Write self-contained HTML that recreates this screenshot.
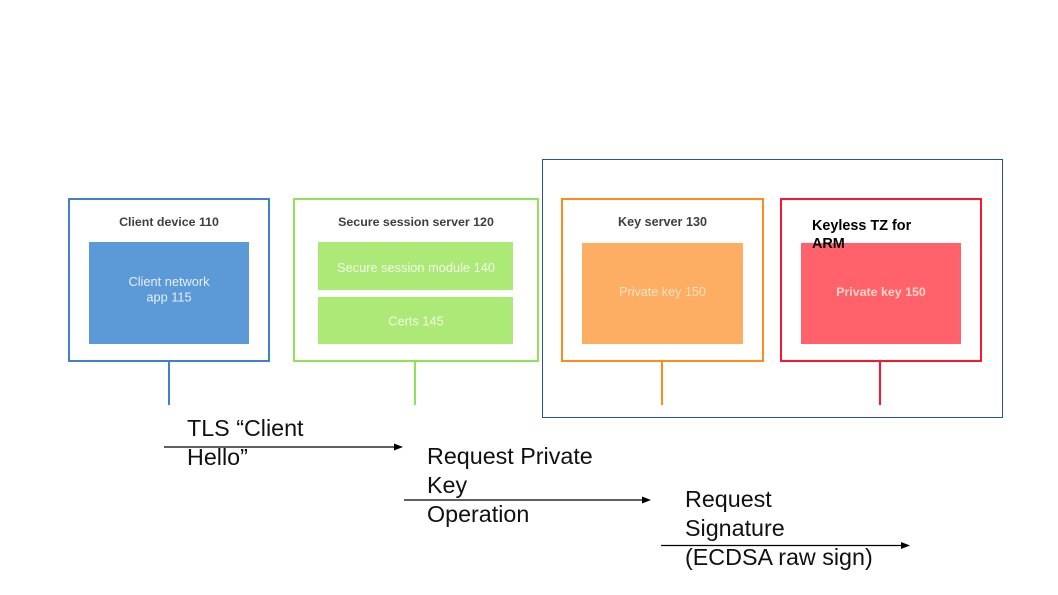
<!DOCTYPE html>
<html>
<head>
<meta charset="utf-8">
<style>
  html, body { margin: 0; padding: 0; background: #ffffff; }
  body { width: 1058px; height: 595px; overflow: hidden; }
  svg { display: block; }
</style>
</head>
<body>
<svg width="1058" height="595" viewBox="0 0 1058 595" xmlns="http://www.w3.org/2000/svg">
  <rect x="0" y="0" width="1058" height="595" fill="#ffffff"/>

  <!-- Big dark-blue container -->
  <rect x="542.5" y="159.5" width="460" height="258" fill="none" stroke="#2b4ea0" stroke-width="1"/>

  <!-- Client device 110 -->
  <rect x="69" y="199" width="200" height="162" fill="#ffffff" stroke="#3f80d0" stroke-width="2"/>
  <rect x="89" y="242" width="160" height="102" fill="#5b9ad6"/>
  <text x="169" y="226" font-family="Liberation Sans, sans-serif" font-size="12.4" font-weight="bold" fill="#3f3f3f" text-anchor="middle">Client device 110</text>
  <text x="169" y="286" font-family="Liberation Sans, sans-serif" font-size="12.8" fill="#e6eef9" text-anchor="middle">Client network</text>
  <text x="169" y="301.5" font-family="Liberation Sans, sans-serif" font-size="12.8" fill="#e6eef9" text-anchor="middle">app 115</text>
  <line x1="169" y1="362" x2="169" y2="405" stroke="#3f80d0" stroke-width="2"/>

  <!-- Secure session server 120 -->
  <rect x="294" y="199" width="244" height="162" fill="#ffffff" stroke="#8fe05a" stroke-width="2"/>
  <rect x="318" y="242" width="195" height="48" fill="#ade977"/>
  <rect x="318" y="297" width="195" height="47" fill="#ade977"/>
  <text x="416" y="226" font-family="Liberation Sans, sans-serif" font-size="12.4" font-weight="bold" fill="#3f3f3f" text-anchor="middle">Secure session server 120</text>
  <text x="416" y="272" font-family="Liberation Sans, sans-serif" font-size="12.8" fill="#f2fbe9" text-anchor="middle">Secure session module 140</text>
  <text x="416" y="325.5" font-family="Liberation Sans, sans-serif" font-size="12.8" fill="#f2fbe9" text-anchor="middle">Certs 145</text>
  <line x1="415" y1="362" x2="415" y2="405" stroke="#8fe05a" stroke-width="2"/>

  <!-- Key server 130 -->
  <rect x="562" y="199" width="201" height="162" fill="#ffffff" stroke="#ff8c1a" stroke-width="2"/>
  <rect x="582" y="243" width="161" height="101" fill="#fdae62"/>
  <text x="662.5" y="226" font-family="Liberation Sans, sans-serif" font-size="12.6" font-weight="bold" fill="#3f3f3f" text-anchor="middle">Key server 130</text>
  <text x="662.5" y="296" font-family="Liberation Sans, sans-serif" font-size="12.6" fill="#fee3c6" text-anchor="middle">Private key 150</text>
  <line x1="662" y1="362" x2="662" y2="405" stroke="#ff8c1a" stroke-width="2"/>

  <!-- Keyless TZ for ARM -->
  <rect x="781" y="199" width="200" height="162" fill="#ffffff" stroke="#ff1430" stroke-width="2"/>
  <rect x="801" y="243" width="160" height="101" fill="#ff626a"/>
  <text x="881" y="296" font-family="Liberation Sans, sans-serif" font-size="12.4" font-weight="bold" fill="#ffd6c8" text-anchor="middle">Private key 150</text>
  <text x="812" y="230" font-family="Liberation Sans, sans-serif" font-size="14.4" font-weight="bold" fill="#000000">Keyless TZ for</text>
  <text x="812" y="248" font-family="Liberation Sans, sans-serif" font-size="14.4" font-weight="bold" fill="#000000">ARM</text>
  <line x1="880" y1="362" x2="880" y2="405" stroke="#ff1430" stroke-width="2"/>

  <!-- Arrow 1 -->
  <line x1="164" y1="447" x2="396" y2="447" stroke="#000" stroke-width="1.2"/>
  <polygon points="394,443.5 403,447 394,450.5" fill="#000"/>
  <text font-family="Liberation Sans, sans-serif" font-size="23.3" fill="#111">
    <tspan x="187" y="436">TLS “Client</tspan>
    <tspan x="187" y="465">Hello”</tspan>
  </text>

  <!-- Arrow 2 -->
  <line x1="404" y1="500" x2="644" y2="500" stroke="#000" stroke-width="1.2"/>
  <polygon points="642,496.5 651,500 642,503.5" fill="#000"/>
  <text font-family="Liberation Sans, sans-serif" font-size="23.3" fill="#111">
    <tspan x="427" y="464">Request Private</tspan>
    <tspan x="427" y="493">Key</tspan>
    <tspan x="427" y="522">Operation</tspan>
  </text>

  <!-- Arrow 3 -->
  <line x1="661" y1="545.5" x2="903" y2="545.5" stroke="#000" stroke-width="1.2"/>
  <polygon points="901,542 910,545.5 901,549" fill="#000"/>
  <text font-family="Liberation Sans, sans-serif" font-size="23.3" fill="#111">
    <tspan x="685" y="507">Request</tspan>
    <tspan x="685" y="536">Signature</tspan>
    <tspan x="685" y="565">(ECDSA raw sign)</tspan>
  </text>
</svg>
</body>
</html>
